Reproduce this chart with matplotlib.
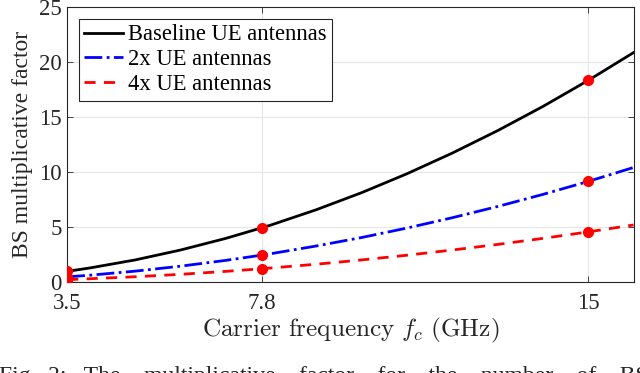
import numpy as np
import matplotlib
matplotlib.use('Agg')
import matplotlib.pyplot as plt

plt.rcParams['font.family'] = ['Liberation Serif', 'DejaVu Serif']
plt.rcParams['mathtext.fontset'] = 'cm'

# 読み取った値 (GHz, 倍率)
freq = [3.5, 4, 5, 6, 7, 7.8, 8, 9, 10, 11, 12, 13, 14, 15, 16]
baseline = [1.0, 1.31, 2.04, 2.94, 4.0, 4.97, 5.22, 6.61, 8.16, 9.88, 11.76, 13.8, 16.0, 18.37, 20.9]
ue_2x = [0.5, 0.65, 1.02, 1.47, 2.0, 2.48, 2.61, 3.31, 4.08, 4.94, 5.88, 6.9, 8.0, 9.18, 10.45]
ue_4x = [0.25, 0.33, 0.51, 0.73, 1.0, 1.24, 1.31, 1.65, 2.04, 2.47, 2.94, 3.45, 4.0, 4.59, 5.22]

# 赤い点
mark_freq = [3.5, 7.8, 15]
mark_base = [1.0, 4.97, 18.37]
mark_2x = [0.5, 2.48, 9.18]
mark_4x = [0.25, 1.24, 4.59]

xticks = [3.5, 7.8, 15]
yticks = [0, 5, 10, 15, 20, 25]

fig = plt.figure(figsize=(6.4, 3.73), dpi=100)
ax = fig.add_axes([0.105, 0.243, 0.885, 0.737])

ax.plot(freq, baseline, color='black', lw=2, label='Baseline UE antennas')
ax.plot(freq, ue_2x, color='blue', lw=2, ls='-.', label='2x UE antennas')
ax.plot(freq, ue_4x, color='red', lw=2, ls=(0, (4, 3)), label='4x UE antennas')

for ys in [mark_base, mark_2x, mark_4x]:
    ax.plot(mark_freq, ys, 'o', color='red', ms=7, zorder=5)

ax.set_xlim(3.5, 16)
ax.set_ylim(0, 25)
ax.set_xticks(xticks)
ax.set_xticklabels(['3.5', '7.8', '15'])
ax.set_yticks(yticks)
ax.grid(True, color='#e6e6e6', lw=0.8)
ax.set_axisbelow(True)
ax.tick_params(direction='in', top=True, right=True, labelsize=16.5, colors='#262626',
               length=4, width=0.6)
ax.tick_params(axis='x', pad=8)
ax.tick_params(axis='y', pad=4)
for s in ax.spines.values():
    s.set_color('#262626')
    s.set_linewidth(0.8)

ax.set_xlabel(r'$\mathrm{Carrier\ frequency}\ f_c\ \mathrm{(GHz)}$', fontsize=18.2, labelpad=1,
              color='#262626')
ax.set_ylabel('BS multiplicative factor', fontsize=17, labelpad=4, color='#262626')

leg = ax.legend(loc='upper left', fontsize=16.3, handlelength=1.7, handletextpad=0.22,
                borderpad=0.25, labelspacing=0.17, borderaxespad=0.5, fancybox=False,
                framealpha=1)
leg.get_frame().set_edgecolor('#262626')
leg.get_frame().set_linewidth(0.8)

fig.text(-0.002, 1 - 366.0 / 373,
         'Fig.  2:   The    multiplicative    factor    for    the    number    of    BS',
         fontsize=17, va='top', ha='left', color='#262626')

fig.savefig('out.png', dpi=100)
